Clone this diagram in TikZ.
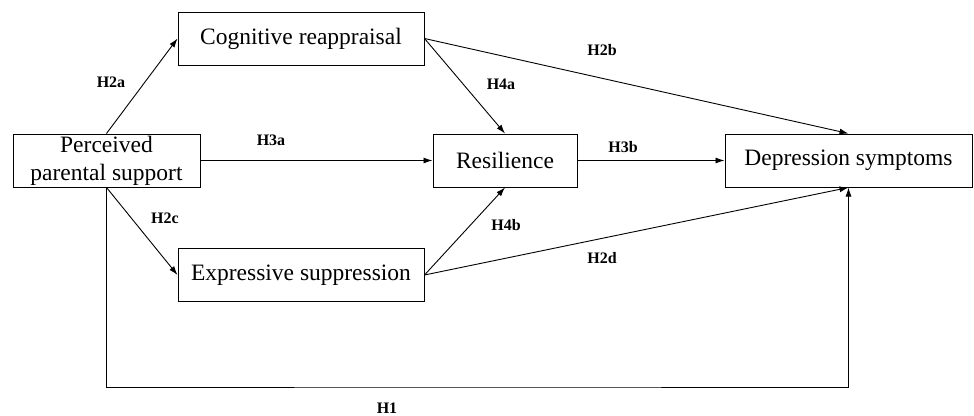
\documentclass[tikz,border=0pt]{standalone}
\usepackage{fontspec}
\setmainfont{Liberation Serif}
\usetikzlibrary{arrows.meta}

\begin{document}
\begin{tikzpicture}%
  [x=1pt,y=-1pt,line width=0.9pt,
   path arrow/.style={-{Latex[length=9pt,width=6pt]}}]
  \tikzstyle{var box}=[rectangle,draw,line width=1pt,inner sep=0,align=center,
    minimum height=53pt,font=\fontsize{23.5}{28}\selectfont]
  \tikzstyle{hyp label}=[inner sep=0,font=\fontsize{16}{18}\selectfont\bfseries]
  \useasboundingbox (0,0) rectangle (974,415);
  % variables
  \node(ps)[var box,minimum width=187pt] at (106.5,160.5){Perceived\\parental support};
  \node(cr)[var box,minimum width=246pt] at (301,38.5){Cognitive reappraisal};
  \node(es)[var box,minimum width=246pt] at (301,275){Expressive suppression};
  \node(res)[var box,minimum width=144pt] at (505,160.5){Resilience};
  \node(ds)[var box,minimum width=247pt] at (848.5,160.5){Depression symptoms};
  % paths
  \draw[path arrow] (ps.north) -- (cr.west);
  \draw[path arrow] (ps.south) -- (es.west);
  \draw[path arrow] (ps.east) -- (res.west);
  \draw[path arrow] (cr.east) -- (res.north);
  \draw[path arrow] (cr.east) -- (ds.north);
  \draw[path arrow] (es.east) -- (res.south);
  \draw[path arrow] (es.east) -- (ds.south);
  \draw[path arrow] (res.east) -- (ds.west);
  \coordinate(bottom) at (478,387);
  \draw[path arrow] (ps.south) |- (bottom) -| (ds.south);
  % hypotheses
  \node(h2a)[hyp label] at (111,82){H2a};
  \node(h3a)[hyp label] at (271,140){H3a};
  \node(h2c)[hyp label] at (165,218){H2c};
  \node(h4a)[hyp label] at (501,84){H4a};
  \node(h4b)[hyp label] at (506,225){H4b};
  \node(h2b)[hyp label] at (602,50){H2b};
  \node(h3b)[hyp label] at (623,147){H3b};
  \node(h2d)[hyp label] at (602,258){H2d};
  \node(h1)[hyp label] at (387,408){H1};
\end{tikzpicture}
\end{document}
